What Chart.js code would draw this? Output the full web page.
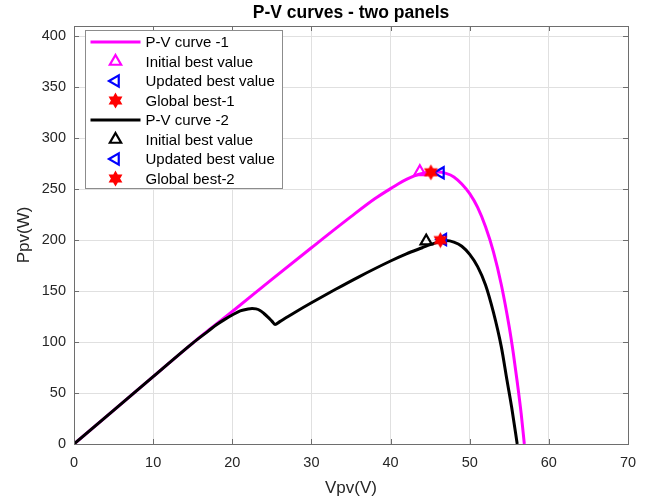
<!DOCTYPE html>
<html>
<head>
<meta charset="utf-8">
<script src="https://cdn.jsdelivr.net/npm/chart.js@4.4.1/dist/chart.umd.min.js"></script>
<style>
  html, body { margin: 0; padding: 0; background: #ffffff; }
  canvas { display: block; }
</style>
</head>
<body>
<canvas id="pv" width="658" height="503"></canvas>
<script>
// P-V curve of panel 1 (uniform irradiance)
const voltage1 = [0, 5, 10, 15, 20, 25, 30, 35, 38, 40, 41, 42, 43, 44, 45, 46, 47, 48, 49, 50, 51, 52, 53, 54, 55, 55.5, 56, 56.5, 56.9];
const power1   = [0, 33, 66, 99, 130, 161.5, 192.5, 223, 240.5, 250.5, 255.3, 259.5, 263, 265.4, 266.7, 266.8, 265.4, 262, 255, 245.5, 232, 213, 188.5, 156, 114.5, 89.5, 61, 30, 0];

// P-V curve of panel 2 (partially shaded, two peaks)
const voltage2 = [0, 5, 10, 15, 17, 18, 19, 20, 21, 22, 22.5, 23, 23.5, 24, 24.5, 25, 25.4, 26, 27, 28, 30, 33, 36, 40, 42, 44, 45, 46, 46.5, 47, 48, 49, 50, 51, 52, 53, 54, 54.7, 55.3, 56];
const power2   = [0, 33, 66, 99, 111, 117, 122, 126.5, 130.5, 132.5, 133, 132.5, 131, 128, 124.5, 120.5, 117.3, 120, 124.8, 129.5, 138.5, 151.5, 164, 179.5, 186.5, 192.5, 195.5, 198, 199, 199.5, 198, 194, 186, 174, 156, 129, 95, 63, 36, 0];

// Tracked operating points: index 0 -> panel 1, index 1 -> panel 2
const initialV = [43.7, 44.5];
const initialP = [267, 199];
const updatedV = [46.3, 46.6];
const updatedP = [266, 200.5];
const globalV  = [45.1, 46.3];
const globalP  = [266.5, 200];

const xTicks = [0, 10, 20, 30, 40, 50, 60, 70];
const yTicks = [0, 50, 100, 150, 200, 250, 300, 350, 400];

const titleText = 'P-V curves - two panels';
const xLabel = 'Vpv(V)';
const yLabel = 'Ppv(W)';

const MAGENTA = '#ff00ff';
const BLACK = '#000000';
const BLUE = '#0000ff';
const RED = '#ff0000';
const FONT = "'Liberation Sans', Arial, Helvetica, sans-serif";

function pairs(xs, ys) { return xs.map((v, i) => ({ x: v, y: ys[i] })); }

// Six-pointed star marker rendered once to an offscreen canvas
function hexagramPath(ctx, cx, cy, R) {
  const r = R / Math.sqrt(3);
  ctx.beginPath();
  for (let k = 0; k < 12; k++) {
    const a = -Math.PI / 2 + k * Math.PI / 6;
    const rr = (k % 2 === 0) ? R : r;
    const px = cx + rr * Math.cos(a), py = cy + rr * Math.sin(a);
    if (k === 0) ctx.moveTo(px, py); else ctx.lineTo(px, py);
  }
  ctx.closePath();
}
function hexagramImage(color, R) {
  const c = document.createElement('canvas');
  const s = Math.ceil(2 * R + 4);
  c.width = s; c.height = s;
  const g = c.getContext('2d');
  hexagramPath(g, s / 2, s / 2, R);
  g.fillStyle = color; g.fill();
  g.lineWidth = 1.5; g.strokeStyle = color; g.stroke();
  return c;
}
const starImg = hexagramImage(RED, 6.5);

function curveSet(label, xs, ys, color) {
  return {
    label, data: pairs(xs, ys), showLine: true, borderColor: color, borderWidth: 3,
    pointRadius: 0, pointHoverRadius: 0, cubicInterpolationMode: 'monotone', fill: false,
    kind: 'line'
  };
}
function triSet(label, x, y, color, rotation) {
  return {
    label, data: [{ x, y }], showLine: false, pointStyle: 'triangle', pointRotation: rotation,
    pointRadius: 6.5, pointBorderWidth: 2.2, pointBorderColor: color,
    pointBackgroundColor: 'rgba(0,0,0,0)', kind: rotation === 0 ? 'triUp' : 'triLeft', color
  };
}
function starSet(label, x, y) {
  return {
    label, data: [{ x, y }], showLine: false, pointStyle: starImg, pointRadius: 6.5,
    kind: 'star', color: RED
  };
}

const datasets = [
  curveSet('P-V curve -1', voltage1, power1, MAGENTA),
  triSet('Initial best value', initialV[0], initialP[0], MAGENTA, 0),
  triSet('Updated best value', updatedV[0], updatedP[0], BLUE, -90),
  starSet('Global best-1', globalV[0], globalP[0]),
  curveSet('P-V curve -2', voltage2, power2, BLACK),
  triSet('Initial best value', initialV[1], initialP[1], BLACK, 0),
  triSet('Updated best value', updatedV[1], updatedP[1], BLUE, -90),
  starSet('Global best-2', globalV[1], globalP[1])
];
// later series are painted over earlier ones
datasets.forEach((d, i) => { d.order = datasets.length - i; });

function legendMarker(ctx, d, x, y) {
  ctx.save();
  if (d.kind === 'line') {
    ctx.strokeStyle = d.borderColor; ctx.lineWidth = 3;
    ctx.beginPath(); ctx.moveTo(x - 25, y); ctx.lineTo(x + 25, y); ctx.stroke();
  } else if (d.kind === 'star') {
    ctx.drawImage(starImg, x - starImg.width / 2, y - starImg.height / 2);
  } else {
    const rot = d.kind === 'triUp' ? 0 : -Math.PI / 2;
    const r = 6.5;
    ctx.strokeStyle = d.color; ctx.lineWidth = 2.2;
    ctx.beginPath();
    for (let k = 0; k < 3; k++) {
      const a = rot + k * 2 * Math.PI / 3;
      const px = x + Math.sin(a) * r, py = y - Math.cos(a) * r;
      if (k === 0) ctx.moveTo(px, py); else ctx.lineTo(px, py);
    }
    ctx.closePath(); ctx.stroke();
  }
  ctx.restore();
}

// Axes box, inward ticks, title and the inset legend
const framePlugin = {
  id: 'frame',
  afterDatasetsDraw(chart) {
    const { ctx, chartArea: a, scales } = chart;
    const tl = 5;
    ctx.save();
    ctx.strokeStyle = '#6e6e6e';
    ctx.lineWidth = 1;
    ctx.beginPath();
    xTicks.forEach(v => {
      const px = Math.round(scales.x.getPixelForValue(v)) + 0.5;
      ctx.moveTo(px, a.bottom); ctx.lineTo(px, a.bottom - tl);
      ctx.moveTo(px, a.top); ctx.lineTo(px, a.top + tl);
    });
    yTicks.forEach(v => {
      const py = Math.round(scales.y.getPixelForValue(v)) + 0.5;
      ctx.moveTo(a.left, py); ctx.lineTo(a.left + tl, py);
      ctx.moveTo(a.right, py); ctx.lineTo(a.right - tl, py);
    });
    ctx.stroke();
    ctx.strokeRect(Math.round(a.left) + 0.5, Math.round(a.top) + 0.5,
                   Math.round(a.right - a.left), Math.round(a.bottom - a.top));
    ctx.restore();
  },
  afterDraw(chart) {
    const { ctx, chartArea: a } = chart;
    ctx.save();
    // title
    ctx.fillStyle = '#000000';
    ctx.font = 'bold 17.5px ' + FONT;
    ctx.textAlign = 'center';
    ctx.textBaseline = 'middle';
    ctx.fillText(titleText, (a.left + a.right) / 2, 13);

    // legend
    const bx = a.left + 11.5, by = a.top + 4.5, bw = 197, bh = 158;
    ctx.fillStyle = '#ffffff';
    ctx.fillRect(bx, by, bw, bh);
    ctx.strokeStyle = '#8c8c8c';
    ctx.lineWidth = 1;
    ctx.strokeRect(bx, by, bw, bh);
    ctx.font = '15px ' + FONT;
    ctx.textAlign = 'left';
    ctx.textBaseline = 'middle';
    const rowH = 19.5;
    datasets.forEach((d, i) => {
      const cy = by + 11.5 + i * rowH;
      legendMarker(ctx, d, bx + 30, cy);
      ctx.fillStyle = '#000000';
      ctx.fillText(d.label, bx + 60, cy + 1);
    });
    ctx.restore();
  }
};

Chart.defaults.font.family = FONT;

new Chart(document.getElementById('pv'), {
  type: 'scatter',
  data: { datasets },
  options: {
    responsive: false,
    devicePixelRatio: 1,
    animation: false,
    events: [],
    layout: { padding: { top: 26, right: 30, left: 0, bottom: 0 } },
    plugins: { legend: { display: false }, title: { display: false }, tooltip: { enabled: false } },
    scales: {
      x: {
        type: 'linear', min: 0, max: 70,
        afterBuildTicks: s => { s.ticks = xTicks.map(v => ({ value: v })); },
        afterFit: s => { s.height = 59; },
        ticks: { color: '#262626', font: { size: 14.5 }, padding: 10, maxRotation: 0 },
        grid: { color: '#e0e0e0', lineWidth: 1, drawTicks: false },
        border: { display: false },
        title: { display: true, text: xLabel, color: '#262626', font: { size: 17 }, padding: { top: 0, bottom: 4 } }
      },
      y: {
        type: 'linear', min: 0, max: 410,
        afterBuildTicks: s => { s.ticks = yTicks.map(v => ({ value: v })); },
        afterFit: s => { s.width = 74; },
        ticks: { color: '#262626', font: { size: 14.5 }, padding: 8 },
        grid: { color: '#e0e0e0', lineWidth: 1, drawTicks: false },
        border: { display: false },
        title: { display: true, text: yLabel, color: '#262626', font: { size: 17 }, padding: { top: 14, bottom: 0 } }
      }
    }
  },
  plugins: [framePlugin]
});
</script>
</body>
</html>
